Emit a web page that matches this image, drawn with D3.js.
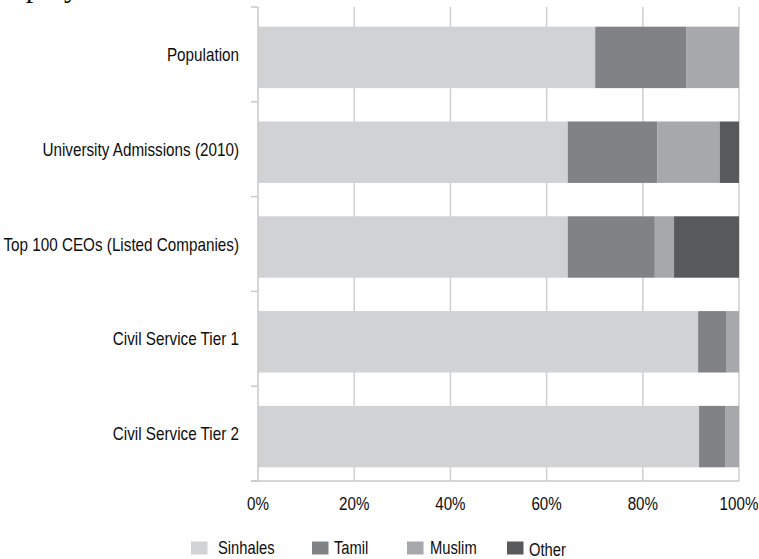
<!DOCTYPE html>
<html>
<head>
<meta charset="utf-8">
<script src="https://cdn.jsdelivr.net/npm/d3@7"></script>
<style>
  html, body { margin: 0; padding: 0; background: #fff; }
  svg { display: block; }
  text { font-family: "Liberation Sans", Arial, sans-serif; fill: #0d0d0d; }
</style>
</head>
<body>
<svg id="chart" width="759" height="559"></svg>
<script>
const categories = [
  "Population",
  "University Admissions (2010)",
  "Top 100 CEOs (Listed Companies)",
  "Civil Service Tier 1",
  "Civil Service Tier 2"
];
const seriesNames = ["Sinhales", "Tamil", "Muslim", "Other"];
const sinhales = [70.1, 64.4, 64.4, 91.5, 91.7];
const tamil    = [18.9, 18.6, 18.1, 5.8, 5.4];
const muslim   = [11.0, 13.0, 4.0, 2.7, 2.9];
const other    = [0.0, 4.0, 13.5, 0.0, 0.0];
const xTicks = [0, 20, 40, 60, 80, 100];
const colors = ["#d1d2d4", "#818285", "#a7a8ab", "#58595b"];

const rows = categories.map((c, i) => ({
  category: c, Sinhales: sinhales[i], Tamil: tamil[i], Muslim: muslim[i], Other: other[i]
}));

const svg = d3.select("#chart");
const mLeft = 258, mRight = 739, mTop = 7, mBottom = 481;
const squeeze = 0.82; // narrow (condensed) look

// cropped title remnant at top
svg.append("text")
  .attr("x", -16).attr("y", -3.5)
  .style("font-family", "'Liberation Serif', 'DejaVu Serif', serif")
  .style("font-size", "30px")
  .text("Employment");

const x = d3.scaleLinear().domain([0, 100]).range([mLeft, mRight]);
// band scale for the category slots (tick boundaries)
const yBand = d3.scaleBand().domain(categories).range([mTop, mBottom]).padding(0);
// bar scale (bars sit slightly low inside their slots)
const y = d3.scaleBand().domain(categories).range([mTop + 3, mBottom + 3]).paddingInner(0.352).paddingOuter(0.176);

// gridlines
svg.append("g").selectAll("line").data(xTicks.slice(1)).join("line")
  .attr("x1", d => x(d)).attr("x2", d => x(d))
  .attr("y1", mTop).attr("y2", mBottom)
  .attr("stroke", "#cfcfcf").attr("stroke-width", 1.5);

const stack = d3.stack().keys(seriesNames)(rows);
const color = d3.scaleOrdinal().domain(seriesNames).range(colors);

svg.append("g").selectAll("g").data(stack).join("g")
  .attr("fill", d => color(d.key))
  .selectAll("rect").data(d => d).join("rect")
  .attr("x", d => x(d[0]))
  .attr("width", d => Math.max(0, x(d[1]) - x(d[0])))
  .attr("y", d => y(d.data.category))
  .attr("height", y.bandwidth());

// y axis line and ticks at slot boundaries
const bounds = categories.map(c => yBand(c)).concat([mBottom]);
svg.append("line").attr("x1", mLeft).attr("x2", mLeft).attr("y1", mTop).attr("y2", mBottom)
  .attr("stroke", "#c8c8c8").attr("stroke-width", 1.5);
svg.append("g").selectAll("line").data(bounds).join("line")
  .attr("x1", mLeft - 7).attr("x2", mLeft).attr("y1", d => d).attr("y2", d => d)
  .attr("stroke", "#c8c8c8").attr("stroke-width", 1.5);
// x axis line
svg.append("line").attr("x1", mLeft - 7).attr("x2", mRight).attr("y1", mBottom).attr("y2", mBottom)
  .attr("stroke", "#c8c8c8").attr("stroke-width", 1.5);

// category labels
svg.append("g").selectAll("text").data(categories).join("text")
  .attr("transform", d => `translate(${mLeft - 19},${yBand(d) + yBand.bandwidth() / 2}) scale(${squeeze},1)`)
  .attr("dy", "0.35em")
  .attr("text-anchor", "end")
  .style("font-size", "18.6px")
  .text(d => d);

// x tick labels
svg.append("g").selectAll("text").data(xTicks).join("text")
  .attr("transform", d => `translate(${x(d)},510) scale(${squeeze},1)`)
  .attr("text-anchor", "middle")
  .style("font-size", "18.5px")
  .text(d => d + "%");

// legend
const swatchX = [191, 312, 407, 507];
const labelX = [218, 334, 430, 529];
const lg = svg.append("g").selectAll("g").data(seriesNames).join("g");
lg.append("rect")
  .attr("x", (d, i) => swatchX[i]).attr("y", 541.5)
  .attr("width", 16.5).attr("height", 13)
  .attr("fill", d => color(d));
lg.append("text")
  .attr("transform", (d, i) => `translate(${labelX[i]},${d === "Other" ? 555.5 : 554}) scale(${squeeze},1)`)
  .style("font-size", "18px")
  .text(d => d);
</script>
</body>
</html>
